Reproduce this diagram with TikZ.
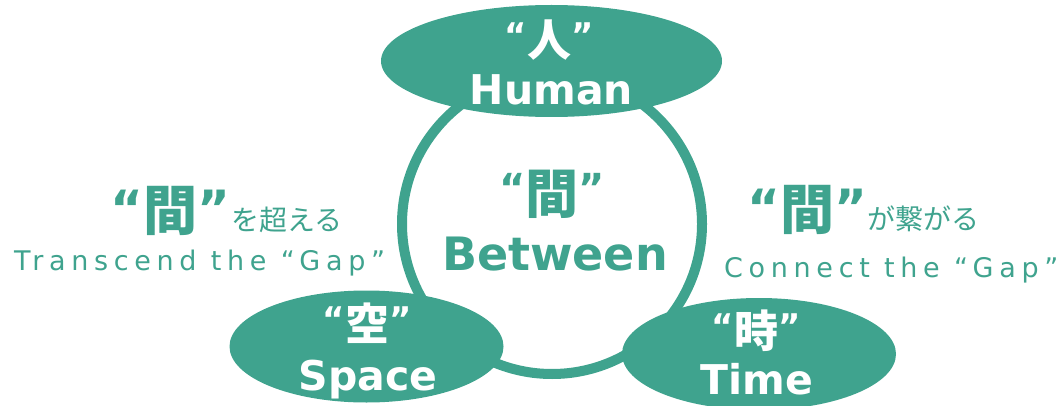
\documentclass[tikz,border=0pt]{standalone}
\usepackage{fontspec}
\setmainfont{DejaVu Sans}
\newfontfamily\jp{Noto Sans CJK JP}
\newfontfamily\lat{DejaVu Sans}
\newfontfamily\spaced{DejaVu Sans}[LetterSpace=21]
\usetikzlibrary{shapes.geometric}
\definecolor{tealA}{HTML}{3FA38E}
% #1 quote size, #2 quote raise, #3 gap, #4 kanji
\newcommand\quoted[4]{\raisebox{#2}{\lat\bfseries\fontsize{#1}{#1}\selectfont “}\hspace{#3}#4\hspace{#3}\raisebox{#2}{\lat\bfseries\fontsize{#1}{#1}\selectfont ”}}
\tikzset{
  blob/.style={ellipse, fill=tealA, draw=none, inner sep=0pt, minimum width=274pt, minimum height=112pt},
  ring/.style={circle, draw=tealA, line width=10pt, inner sep=0pt, minimum size=300pt},
  kanjiw/.style={anchor=base, inner sep=0pt, text=white, font=\jp\bfseries\fontsize{44}{46}\selectfont},
  wordw/.style={anchor=base, inner sep=0pt, text=white, font=\lat\bfseries\fontsize{41}{43}\selectfont},
  kanjit/.style={anchor=base, inner sep=0pt, text=tealA, font=\jp\bfseries\fontsize{53}{55}\selectfont},
  wordt/.style={anchor=base, inner sep=0pt, text=tealA, font=\lat\bfseries\fontsize{46}{48}\selectfont},
  sideq/.style={anchor=base west, inner sep=0pt, text=tealA, font=\jp\bfseries\fontsize{54}{56}\selectfont},
  sidek/.style={anchor=base west, inner sep=0pt, text=tealA, font=\jp\fontsize{28}{30}\selectfont},
  sidee/.style={anchor=base west, inner sep=0pt, text=tealA, font=\spaced\fontsize{27}{29}\selectfont},
}
\begin{document}
\begin{tikzpicture}[x=1pt,y=-1pt]
\useasboundingbox (0,0) rectangle (1062,406);
\node[ring] (mid) at (552,224) {};
\node[blob, minimum width=341pt] (human) at (551.5,61) {};
\node[blob] (space) at (366.5,346.5) {};
\node[blob] (time) at (759,354) {};
% labels in ellipses
\node[kanjiw] (hk) at (549,57) {\quoted{34pt}{9pt}{0pt}{人}};
\node[wordw] (hw) at (551.5,105) {Human};
\node[kanjiw] (sk) at (367,340) {\quoted{34pt}{9pt}{0pt}{空}};
\node[wordw] (sw) at (368,390) {Space};
\node[kanjiw] (tk) at (756,347) {\quoted{34pt}{9pt}{0pt}{時}};
\node[wordw] (tw) at (757,394) {Time};
% centre
\node[kanjit] (bk) at (552,214) {\quoted{40pt}{12pt}{0pt}{間}};
\node[wordt] (bw) at (555,270) {Between};
% left
\node[sideq] (lq) at (110,230) {\quoted{50pt}{4pt}{0pt}{間}};
\node[sidek] (lk) at (231,230) {を超える};
\node[sidee] (le) at (14,270) {Transcend the “Gap”};
% right
\node[sideq] (rq) at (747,229) {\quoted{50pt}{4pt}{0pt}{間}};
\node[sidek] (rk) at (867,229) {が繋がる};
\node[sidee] (re) at (724,277) {Connect the “Gap”};
\end{tikzpicture}
\end{document}
